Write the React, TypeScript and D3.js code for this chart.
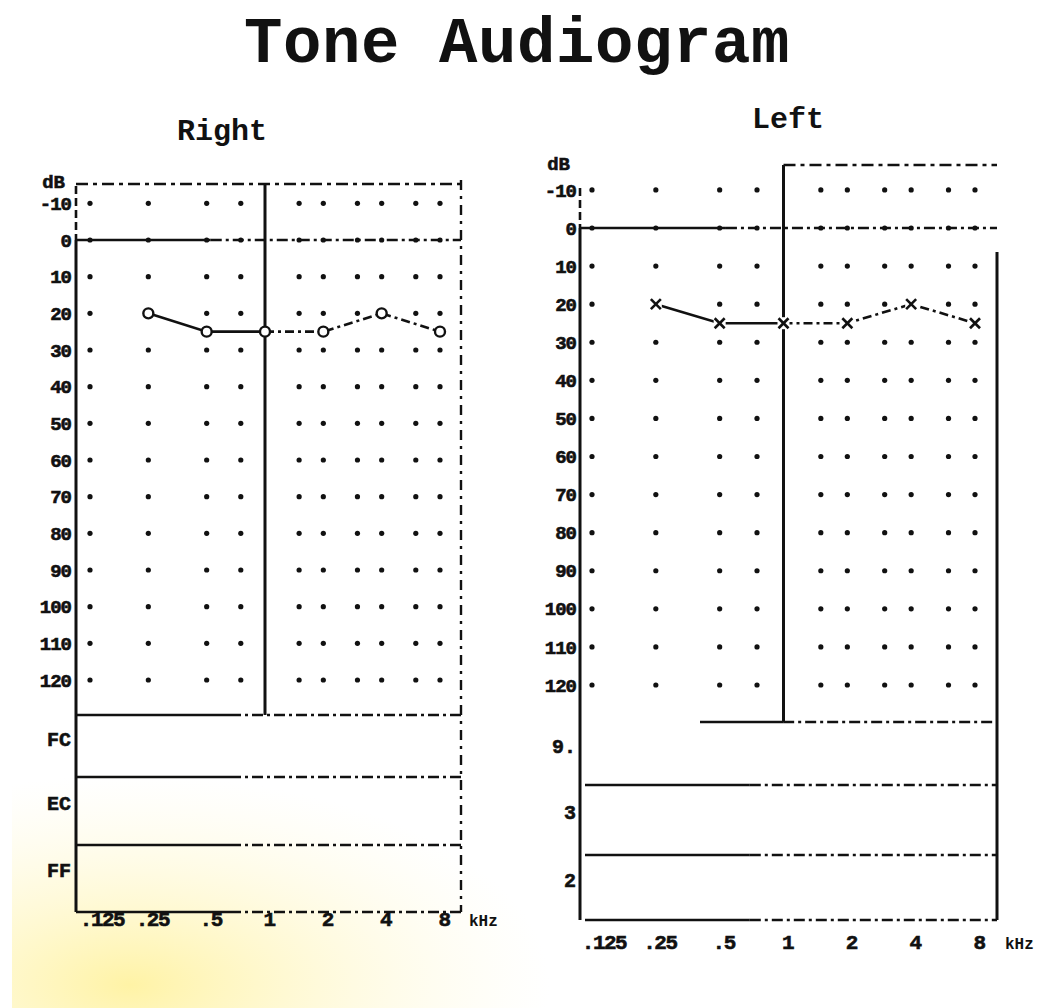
import * as d3 from 'd3';

// frequencies in kHz
const testFreqs = [0.25, 0.5, 1, 2, 4, 8];
const gridFreqs = [0.125, 0.25, 0.5, 0.75, 1, 1.5, 2, 3, 4, 6, 8];
const axisFreqs = [0.125, 0.25, 0.5, 1, 2, 4, 8];
const axisFreqLabels = ['.125', '.25', '.5', '1', '2', '4', '8'];
const dbRows = [-10, 0, 10, 20, 30, 40, 50, 60, 70, 80, 90, 100, 110, 120];
const dbRowLabels = ['-10', '0', '10', '20', '30', '40', '50', '60', '70', '80', '90', '100', '110', '120'];

// hearing thresholds (dB HL)
const rightDb = [20, 25, 25, 25, 20, 25];
const leftDb = [20, 25, 25, 25, 20, 25];

const rightLowerLabels = ['FC', 'EC', 'FF'];
const leftLowerLabels = ['9.', '3', '2'];

const FONT = '"Liberation Mono", "DejaVu Sans Mono", monospace';
const DASH = '11 4 3 4';

type Layout = {
  axisX: number;
  edgeX: number;
  xRange: [number, number];
  yRange: [number, number];
  topY: number;
  axisTopY: number;
  edgeTopY: number;
  lower: number[];
  labelX: number;
  titleX: number;
  titleY: number;
  tickY: number;
  dbY: number;
  edgeDashed: boolean;
  frameFromOneK: boolean;
  lowerStart: number[];
};

const rightLayout: Layout = {
  axisX: 76, edgeX: 461, xRange: [90, 440], yRange: [240, 680],
  topY: 184, axisTopY: 186, edgeTopY: 180,
  lower: [715, 777, 845, 912], labelX: 71,
  titleX: 222, titleY: 140, tickY: 926, dbY: 188,
  edgeDashed: true, frameFromOneK: false, lowerStart: [76, 76, 76, 76],
};

const leftLayout: Layout = {
  axisX: 580, edgeX: 997, xRange: [592, 975], yRange: [228, 685],
  topY: 165, axisTopY: 188, edgeTopY: 252,
  lower: [722, 785, 855, 920], labelX: 576,
  titleX: 788, titleY: 128, tickY: 949, dbY: 170,
  edgeDashed: false, frameFromOneK: true, lowerStart: [700, 585, 585, 585],
};

// solid run then a dash-dot run, like the printed frame rules
const Rule = ({ x1, x2, y, split = 0.35 }: { x1: number; x2: number; y: number; split?: number }) => {
  const xm = x1 + (x2 - x1) * split;
  return (
    <g stroke="#111" strokeWidth={2.6}>
      <line x1={x1} x2={xm} y1={y} y2={y} />
      <line x1={xm} x2={x2} y1={y} y2={y} strokeDasharray={DASH} />
    </g>
  );
};

const Panel = ({ layout, title, values, marker, lowerLabels }: {
  layout: Layout; title: string; values: number[]; marker: 'o' | 'x'; lowerLabels: string[];
}) => {
  const x = d3.scaleLog().base(2).domain([0.125, 8]).range(layout.xRange);
  const y = d3.scaleLinear().domain([0, 120]).range(layout.yRange);
  const oneK = x(1);
  const pts = testFreqs.map((f, i) => [x(f), y(values[i])] as [number, number]);
  const line = d3.line();
  const solidPart = line(pts.slice(0, 3));
  const dashPart = line(pts.slice(2));
  const heavy = { stroke: '#111', strokeWidth: 0.6 };

  return (
    <g>
      <text x={layout.titleX} y={layout.titleY} textAnchor="middle" fontFamily={FONT}
        fontWeight="bold" fontSize={30} fill="#111">{title}</text>

      {/* top frame */}
      <line x1={layout.frameFromOneK ? oneK : layout.axisX} x2={layout.edgeX}
        y1={layout.topY} y2={layout.topY} stroke="#111" strokeWidth={2.6} strokeDasharray="12 5 4 5" />
      {/* left axis */}
      <line x1={layout.axisX} x2={layout.axisX} y1={layout.axisTopY} y2={y(0)}
        stroke="#111" strokeWidth={2.6} strokeDasharray="8 4" />
      <line x1={layout.axisX} x2={layout.axisX} y1={y(0)} y2={layout.lower[3]}
        stroke="#111" strokeWidth={3} />
      {/* right edge */}
      <line x1={layout.edgeX} x2={layout.edgeX} y1={layout.edgeTopY} y2={layout.lower[3]}
        stroke="#111" strokeWidth={layout.edgeDashed ? 2.4 : 3}
        strokeDasharray={layout.edgeDashed ? '10 6 3 6' : undefined} />
      {/* 0 dB reference */}
      <Rule x1={layout.axisX} x2={layout.edgeX} y={y(0)} />
      {/* 1 kHz divider */}
      <line x1={oneK} x2={oneK} y1={layout.topY} y2={layout.lower[0]}
        stroke="#111" strokeWidth={3} />
      {/* lower section rules */}
      {layout.lower.map((ly, i) => (
        <Rule key={i} x1={layout.lowerStart[i]} x2={layout.edgeX} y={ly} split={i === 0 && layout.frameFromOneK ? 0.28 : 0.4} />
      ))}

      {/* dot grid */}
      {dbRows.map((db) =>
        gridFreqs.filter((f) => f !== 1).map((f) => (
          <circle key={`${db}-${f}`} cx={x(f)} cy={y(db)} r={2.6} fill="#111" />
        ))
      )}

      {/* dB labels */}
      <text x={layout.labelX - 6} y={layout.dbY} textAnchor="end" fontFamily={FONT}
        fontWeight="bold" fontSize={19} fill="#111" {...heavy}>dB</text>
      {dbRows.map((db, i) => (
        <text key={db} x={layout.labelX} y={y(db)} dy="0.35em" textAnchor="end"
          fontFamily={FONT} fontWeight="bold" fontSize={19} fill="#111"
          letterSpacing={-1} {...heavy}>{dbRowLabels[i]}</text>
      ))}
      {lowerLabels.map((t, i) => {
        const ly = layout.lower[i] + (layout.lower[i + 1] - layout.lower[i]) * 0.38;
        return (
          <text key={t + i} x={layout.labelX} y={ly} dy="0.35em" textAnchor="end"
            fontFamily={FONT} fontWeight="bold" fontSize={20} fill="#111" {...heavy}>{t}</text>
        );
      })}

      {/* frequency labels */}
      {axisFreqs.map((f, i) => (
        <text key={f} x={x(f) + (i === 0 ? 12 : 4)} y={layout.tickY} textAnchor="middle"
          fontFamily={FONT} fontWeight="bold" fontSize={21} fill="#111"
          letterSpacing={-1.5} {...heavy}>{axisFreqLabels[i]}</text>
      ))}
      <text x={layout.edgeX + 8} y={layout.tickY} fontFamily={FONT} fontWeight="bold"
        fontSize={16} fill="#111">kHz</text>

      {/* threshold curve */}
      <path d={solidPart || ''} fill="none" stroke="#111" strokeWidth={2.6} />
      <path d={dashPart || ''} fill="none" stroke="#111" strokeWidth={2.6} strokeDasharray="9 4 3 4" />
      {pts.map(([px, py], i) =>
        marker === 'o' ? (
          <circle key={i} cx={px} cy={py} r={5} fill="#fff" stroke="#111" strokeWidth={2.4} />
        ) : (
          <g key={i} stroke="#111" strokeWidth={2.6}>
            <rect x={px - 6} y={py - 6} width={12} height={12} fill="#fff" stroke="none" />
            <line x1={px - 5} x2={px + 5} y1={py - 5} y2={py + 5} />
            <line x1={px - 5} x2={px + 5} y1={py + 5} y2={py - 5} />
          </g>
        )
      )}
    </g>
  );
};

const App = () => {
  return (
    <svg width={1055} height={1008} style={{ position: 'absolute', left: 0, top: 0 }}>
      <defs>
        <radialGradient id="tint" cx="0.5" cy="0.5" r="0.5">
          <stop offset="0%" stopColor="#fff08f" stopOpacity={0.8} />
          <stop offset="100%" stopColor="#fff8d0" stopOpacity={0} />
        </radialGradient>
      </defs>
      <rect width={1055} height={1008} fill="#fff" />
      <ellipse cx={130} cy={985} rx={420} ry={210} fill="url(#tint)" />
      <rect x={0} y={0} width={12} height={1008} fill="#fff" />
      <text x={517} y={62} textAnchor="middle" fontFamily={FONT} fontWeight="bold"
        fontSize={64} letterSpacing={0.6} fill="#111">Tone Audiogram</text>
      <Panel layout={rightLayout} title="Right" values={rightDb} marker="o" lowerLabels={rightLowerLabels} />
      <Panel layout={leftLayout} title="Left" values={leftDb} marker="x" lowerLabels={leftLowerLabels} />
    </svg>
  );
};

export default App;
